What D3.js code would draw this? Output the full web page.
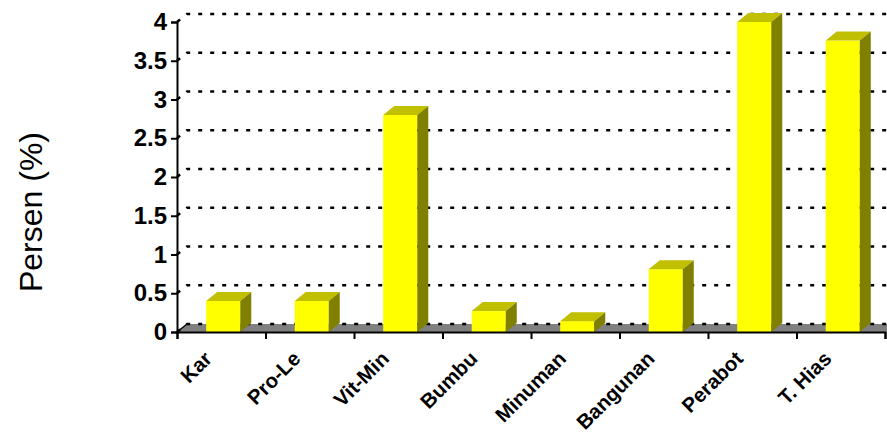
<!DOCTYPE html>
<html lang="en">
<head>
    <meta charset="UTF-8">
    <title>Persen (%)</title>
    <script src="https://cdn.jsdelivr.net/npm/d3@7"></script>
    <style>
        body { margin: 0; background: #fff; }
        svg { display: block; font-family: "Liberation Sans", Arial, sans-serif; }
        .grid path { fill: none; stroke: #000; stroke-width: 2.5; stroke-dasharray: 4,8; }
        .yaxis text { font-size: 24px; font-weight: bold; }
        .xlabel { font-size: 20.5px; font-weight: bold; }
    </style>
</head>
<body>
    <svg width="887" height="435"></svg>

    <script>
        // Data
        const categories = ["Kar", "Pro-Le", "Vit-Min", "Bumbu", "Minuman", "Bangunan", "Perabot", "T. Hias"];
        const values = [0.40, 0.40, 2.80, 0.27, 0.14, 0.81, 4.00, 3.76];
        const yTicks = [0, 0.5, 1, 1.5, 2, 2.5, 3, 3.5, 4];

        const svg = d3.select("svg");

        // 3D offsets
        const wallDx = 10, wallDy = -8;
        const barDx = 11, barDy = -9;

        const x = d3.scaleBand().domain(categories).range([177, 885]).paddingInner(0);
        const y = d3.scaleLinear().domain([0, 4]).range([332, 22]);
        const bw = x.bandwidth();
        const right = 887;

        // Floor
        svg.append("path")
            .attr("d", `M${x.range()[0]},${y(0)}L${x.range()[0] + wallDx},${y(0) + wallDy}L${right},${y(0) + wallDy}L${right},${y(0)}Z`)
            .attr("fill", "#808080");

        // Gridlines on back wall
        svg.append("g").attr("class", "grid")
            .selectAll("path")
            .data(yTicks)
            .enter().append("path")
            .attr("d", d => `M${x.range()[0]},${y(d)}L${x.range()[0] + wallDx},${y(d) + wallDy}L${right},${y(d) + wallDy}`);

        // Floor left edge
        svg.append("line")
            .attr("x1", x.range()[0]).attr("y1", y(0))
            .attr("x2", x.range()[0] + wallDx).attr("y2", y(0) + wallDy)
            .attr("stroke", "#000").attr("stroke-width", 1.5);

        // Bars
        const bars = svg.append("g").selectAll("g")
            .data(categories.map((c, i) => ({ c, v: values[i] })))
            .enter().append("g");

        const bx0 = d => x(d.c) + bw * 0.33;
        const bx1 = d => x(d.c) + bw * 0.33 + bw * 0.385;

        bars.append("rect")
            .attr("x", bx0)
            .attr("y", d => y(d.v))
            .attr("width", d => bx1(d) - bx0(d))
            .attr("height", d => y(0) - y(d.v))
            .attr("fill", "#ffff00");

        bars.append("path")
            .attr("d", d => `M${bx0(d)},${y(d.v)}L${bx0(d) + barDx},${y(d.v) + barDy}L${bx1(d) + barDx},${y(d.v) + barDy}L${bx1(d)},${y(d.v)}Z`)
            .attr("fill", "#c0c000");

        bars.append("path")
            .attr("d", d => `M${bx1(d)},${y(d.v)}L${bx1(d) + barDx},${y(d.v) + barDy}L${bx1(d) + barDx},${y(0) + barDy}L${bx1(d)},${y(0)}Z`)
            .attr("fill", "#808000");

        // Y axis
        const yAxis = svg.append("g")
            .attr("class", "yaxis")
            .attr("transform", `translate(${x.range()[0]},0)`)
            .call(d3.axisLeft(y).tickValues(yTicks).tickSize(6).tickPadding(4).tickFormat(d => String(d)));
        yAxis.select(".domain").attr("stroke", "#000").attr("stroke-width", 2);
        yAxis.selectAll(".tick line").attr("stroke", "#000").attr("stroke-width", 2);
        yAxis.selectAll("text").attr("fill", "#000");

        // X axis with ticks at category boundaries
        const xb = d3.scaleLinear().domain([0, categories.length]).range(x.range());
        const xAxis = svg.append("g")
            .attr("transform", `translate(0,${y(0)})`)
            .call(d3.axisBottom(xb).tickValues(d3.range(categories.length + 1)).tickSize(7).tickFormat(""));
        xAxis.select(".domain").attr("stroke", "#000").attr("stroke-width", 2);
        xAxis.selectAll(".tick line").attr("stroke", "#000").attr("stroke-width", 2);

        // X labels
        svg.append("g").selectAll("text")
            .data(categories)
            .enter().append("text")
            .attr("class", "xlabel")
            .attr("text-anchor", "end")
            .attr("transform", d => `translate(${x(d) + bw / 2 - 8},${y(0) + 28}) rotate(-45)`)
            .text(d => d);

        // Y title
        svg.append("text")
            .attr("transform", `translate(42,212) rotate(-90)`)
            .attr("text-anchor", "middle")
            .style("font-size", "32px")
            .text("Persen (%)");
    </script>
</body>
</html>
